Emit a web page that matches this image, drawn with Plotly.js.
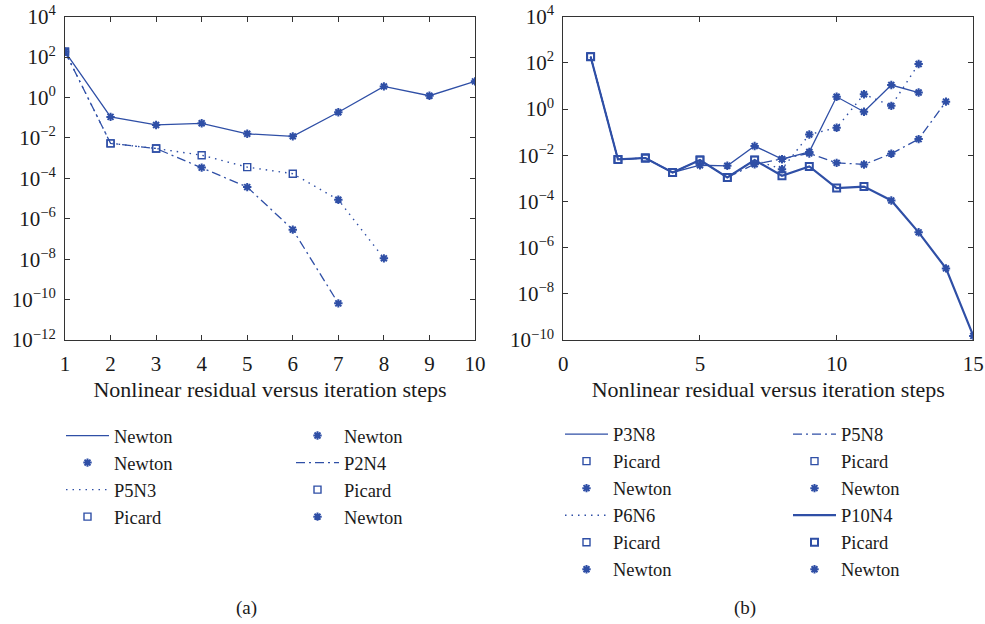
<!DOCTYPE html>
<html><head><meta charset="utf-8">
<script src="https://cdn.plot.ly/plotly-3.0.1.min.js"></script>
<style>html,body{margin:0;padding:0;background:#fff}#chart{width:985px;height:624px}</style>
</head><body><div id="chart"></div>
<script>
// ---------- Panel (a) ----------
const stepsNewtonA = [1, 2, 3, 4, 5, 6, 7, 8, 9, 10];
const resNewtonA   = [186, 0.11, 0.044, 0.053, 0.016, 0.012, 0.186, 3.55, 1.23, 6.3];
const methNewtonA  = ['N', 'N', 'N', 'N', 'N', 'N', 'N', 'N', 'N', 'N'];

const stepsP5N3 = [1, 2, 3, 4, 5, 6, 7, 8];
const resP5N3   = [186, 0.0054, 0.0030, 0.0014, 3.6e-4, 1.7e-4, 8.7e-6, 1.1e-8];
const methP5N3  = ['P', 'P', 'P', 'P', 'P', 'P', 'N', 'N'];

const stepsP2N4 = [1, 2, 3, 4, 5, 6, 7];
const resP2N4   = [186, 0.0054, 0.0030, 3.4e-4, 3.7e-5, 2.9e-7, 6.5e-11];
const methP2N4  = ['P', 'P', 'P', 'N', 'N', 'N', 'N'];

// ---------- Panel (b) ----------
const stepsP3N8 = [1, 2, 3, 4, 5, 6, 7, 8, 9, 10, 11, 12, 13];
const resP3N8   = [186, 0.0066, 0.0076, 0.0018, 0.0037, 0.0035, 0.025, 0.0068, 0.014, 3.4, 0.76, 11, 5.2];
const methP3N8  = ['P', 'P', 'P', 'P', 'N', 'N', 'N', 'N', 'N', 'N', 'N', 'N', 'N'];

const stepsP6N6 = [1, 2, 3, 4, 5, 6, 7, 8, 9, 10, 11, 12, 13];
const resP6N6   = [186, 0.0066, 0.0076, 0.0018, 0.0062, 0.0011, 0.0062, 0.0025, 0.079, 0.155, 4.4, 1.38, 89];
const methP6N6  = ['P', 'P', 'P', 'P', 'P', 'P', 'P', 'N', 'N', 'N', 'N', 'N', 'N'];

const stepsP5N8 = [1, 2, 3, 4, 5, 6, 7, 8, 9, 10, 11, 12, 13, 14];
const resP5N8   = [186, 0.0066, 0.0076, 0.0018, 0.0062, 0.0011, 0.0041, 0.0068, 0.012, 0.0047, 0.0040, 0.0117, 0.05, 2.1];
const methP5N8  = ['P', 'P', 'P', 'P', 'P', 'P', 'N', 'N', 'N', 'N', 'N', 'N', 'N', 'N'];

const stepsP10N4 = [1, 2, 3, 4, 5, 6, 7, 8, 9, 10, 11, 12, 13, 14, 15];
const resP10N4   = [186, 0.0066, 0.0076, 0.0018, 0.0062, 0.0011, 0.0062, 0.0013, 0.0033, 3.8e-4, 4.4e-4, 1.1e-4, 4.6e-6, 1.26e-7, 1.5e-10];
const methP10N4  = ['P', 'P', 'P', 'P', 'P', 'P', 'P', 'P', 'P', 'P', 'P', 'N', 'N', 'N', 'N'];

// Tick labels
const yExpA = [-12, -10, -8, -6, -4, -2, 0, 2, 4];
const yExpB = [-10, -8, -6, -4, -2, 0, 2, 4];
const xTicksA = [1, 2, 3, 4, 5, 6, 7, 8, 9, 10];
const xTicksB = [0, 5, 10, 15];

const BLUE = '#2f4fa6';
const SERIF = 'Liberation Serif';
const INK = '#1a1a1a';
const DOT = '1.5px,5px';
const DASHDOT = '9px,4px,2px,4px';

function pick(xs, ys, ms, m) {
  const x = [], y = [];
  for (let i = 0; i < xs.length; i++) if (ms[i] === m) { x.push(xs[i]); y.push(ys[i]); }
  return {x, y};
}
function lineTrace(name, xs, ys, dash, width, xa, ya, legend, rank) {
  return {x: xs, y: ys, name: name, mode: 'lines', type: 'scatter', xaxis: xa, yaxis: ya,
    line: {color: BLUE, width: width, dash: dash}, legend: legend, legendrank: rank, hoverinfo: 'skip'};
}
function markTrace(name, xs, ys, ms, m, xa, ya, legend, rank, bold) {
  const p = pick(xs, ys, ms, m);
  const isP = m === 'P';
  return {x: p.x, y: p.y, name: name, mode: 'markers', type: 'scatter', xaxis: xa, yaxis: ya,
    marker: isP ? {symbol: 'square-open', size: 7, color: BLUE, line: {color: BLUE, width: bold ? 2 : 1.4}}
                : {symbol: 'asterisk-open', size: 7, color: BLUE, line: {color: BLUE, width: 2}},
    legend: legend, legendrank: rank, hoverinfo: 'skip'};
}

const traces = [
  // (a) column 1
  lineTrace('Newton', stepsNewtonA, resNewtonA, 'solid', 1.3, 'x', 'y', 'legend', 1),
  markTrace('Newton', stepsNewtonA, resNewtonA, methNewtonA, 'N', 'x', 'y', 'legend', 2),
  lineTrace('P5N3', stepsP5N3, resP5N3, DOT, 1.4, 'x', 'y', 'legend', 3),
  markTrace('Picard', stepsP5N3, resP5N3, methP5N3, 'P', 'x', 'y', 'legend', 4),
  // (a) column 2
  markTrace('Newton', stepsP5N3, resP5N3, methP5N3, 'N', 'x', 'y', 'legend2', 1),
  lineTrace('P2N4', stepsP2N4, resP2N4, DASHDOT, 1.3, 'x', 'y', 'legend2', 2),
  markTrace('Picard', stepsP2N4, resP2N4, methP2N4, 'P', 'x', 'y', 'legend2', 3),
  markTrace('Newton', stepsP2N4, resP2N4, methP2N4, 'N', 'x', 'y', 'legend2', 4),
  // (b) column 1
  lineTrace('P3N8', stepsP3N8, resP3N8, 'solid', 1.3, 'x2', 'y2', 'legend3', 1),
  markTrace('Picard', stepsP3N8, resP3N8, methP3N8, 'P', 'x2', 'y2', 'legend3', 2),
  markTrace('Newton', stepsP3N8, resP3N8, methP3N8, 'N', 'x2', 'y2', 'legend3', 3),
  lineTrace('P6N6', stepsP6N6, resP6N6, DOT, 1.4, 'x2', 'y2', 'legend3', 4),
  markTrace('Picard', stepsP6N6, resP6N6, methP6N6, 'P', 'x2', 'y2', 'legend3', 5),
  markTrace('Newton', stepsP6N6, resP6N6, methP6N6, 'N', 'x2', 'y2', 'legend3', 6),
  // (b) column 2
  lineTrace('P5N8', stepsP5N8, resP5N8, DASHDOT, 1.3, 'x2', 'y2', 'legend4', 1),
  markTrace('Picard', stepsP5N8, resP5N8, methP5N8, 'P', 'x2', 'y2', 'legend4', 2),
  markTrace('Newton', stepsP5N8, resP5N8, methP5N8, 'N', 'x2', 'y2', 'legend4', 3),
  lineTrace('P10N4', stepsP10N4, resP10N4, 'solid', 2.2, 'x2', 'y2', 'legend4', 4),
  markTrace('Picard', stepsP10N4, resP10N4, methP10N4, 'P', 'x2', 'y2', 'legend4', 5, true),
  markTrace('Newton', stepsP10N4, resP10N4, methP10N4, 'N', 'x2', 'y2', 'legend4', 6)
];

function supText(e) { return '10<sup>' + (e < 0 ? '\u2212' + (-e) : e) + '</sup>'; }

const axisCommon = {
  showline: true, linecolor: '#333', linewidth: 1, mirror: 'ticks',
  ticks: 'inside', ticklen: 5, tickwidth: 1, tickcolor: '#333',
  showgrid: false, zeroline: false,
  tickfont: {family: SERIF, size: 21, color: INK}
};
const legendCommon = {
  bgcolor: 'rgba(0,0,0,0)', borderwidth: 0, xanchor: 'left', yanchor: 'top',
  font: {family: SERIF, size: 18.5, color: INK}, tracegroupgap: 0, itemclick: false, itemwidth: 43
};

const layout = {
  width: 985, height: 624,
  margin: {l: 0, r: 0, t: 0, b: 0},
  font: {family: SERIF, color: INK},
  paper_bgcolor: '#fff', plot_bgcolor: '#fff',
  xaxis: Object.assign({}, axisCommon, {
    domain: [65 / 985, 475 / 985], range: [1, 10], anchor: 'y',
    tickmode: 'array', tickvals: xTicksA, ticktext: xTicksA.map(String), ticklabelstandoff: 5,
    title: {text: 'Nonlinear residual versus iteration steps', font: {family: SERIF, size: 22, color: INK}, standoff: 6}
  }),
  yaxis: Object.assign({}, axisCommon, {
    domain: [284 / 624, 607.3 / 624], type: 'log', range: [-12, 4], anchor: 'x',
    tickmode: 'array', tickvals: yExpA.map(e => Math.pow(10, e)), ticktext: yExpA.map(supText), ticklabelstandoff: 4
  }),
  xaxis2: Object.assign({}, axisCommon, {
    domain: [563.3 / 985, 973.3 / 985], range: [0, 15], anchor: 'y2',
    tickmode: 'array', tickvals: xTicksB, ticktext: xTicksB.map(String), ticklabelstandoff: 5,
    title: {text: 'Nonlinear residual versus iteration steps', font: {family: SERIF, size: 22, color: INK}, standoff: 6}
  }),
  yaxis2: Object.assign({}, axisCommon, {
    domain: [284 / 624, 607.3 / 624], type: 'log', range: [-10, 4], anchor: 'x2',
    tickmode: 'array', tickvals: yExpB.map(e => Math.pow(10, e)), ticktext: yExpB.map(supText), ticklabelstandoff: 4
  }),
  showlegend: true,
  legend:  Object.assign({}, legendCommon, {x: 61 / 985,  y: 1 - 417 / 624}),
  legend2: Object.assign({}, legendCommon, {x: 291 / 985, y: 1 - 417 / 624}),
  legend3: Object.assign({}, legendCommon, {x: 560 / 985, y: 1 - 415.5 / 624}),
  legend4: Object.assign({}, legendCommon, {x: 788 / 985, y: 1 - 415.5 / 624}),
  annotations: [
    {text: '(a)', x: 246 / 985, y: 1 - 608 / 624, xref: 'paper', yref: 'paper', showarrow: false,
     font: {family: SERIF, size: 19, color: INK}, xanchor: 'center', yanchor: 'middle'},
    {text: '(b)', x: 745 / 985, y: 1 - 608 / 624, xref: 'paper', yref: 'paper', showarrow: false,
     font: {family: SERIF, size: 19, color: INK}, xanchor: 'center', yanchor: 'middle'}
  ]
};

Plotly.newPlot('chart', traces, layout, {staticPlot: true, displayModeBar: false});
</script>
</body></html>
